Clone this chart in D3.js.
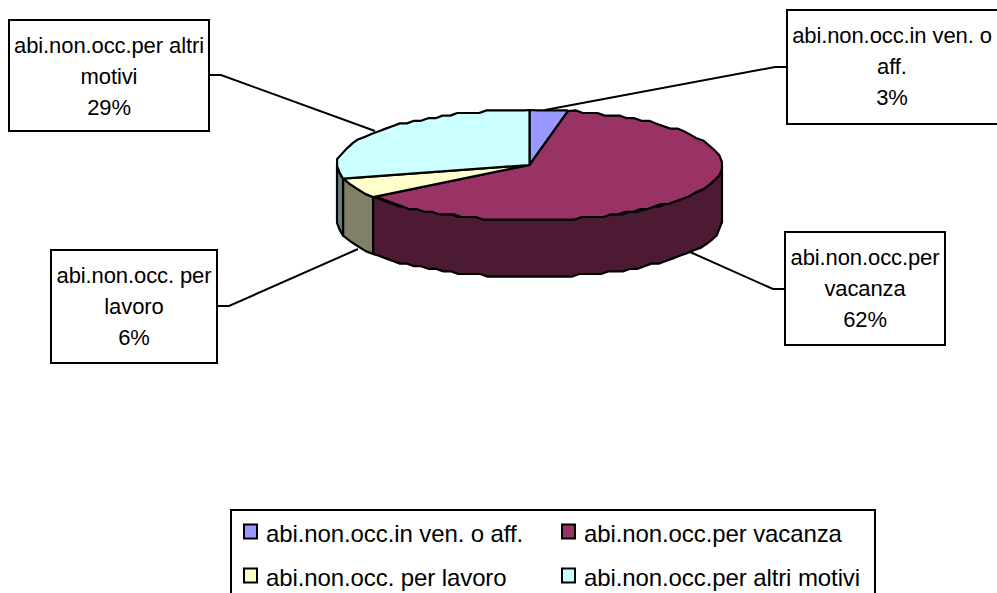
<!DOCTYPE html>
<html><head><meta charset="utf-8">
<script src="https://cdn.jsdelivr.net/npm/d3@7"></script>
<style>html,body{margin:0;background:#fff}svg{display:block}text{font-family:"Liberation Sans",Arial,sans-serif;fill:#000}</style>
</head><body><svg id="c" width="997" height="593"></svg>
<script>
const categories = ["abi.non.occ.in ven. o aff.","abi.non.occ.per vacanza","abi.non.occ. per lavoro","abi.non.occ.per altri motivi"];
const values = [3.2,61.9,5.9,29];
const percentLabels = ["3%","62%","6%","29%"];
const topColors = ["#9999ff","#993366","#ffffcc","#ccffff"];
const sideColors = ["#4d4d80","#4d1a33","#808066","#668080"];
const labelLines = [["abi.non.occ.in ven. o","aff."],["abi.non.occ.per","vacanza"],["abi.non.occ. per","lavoro"],["abi.non.occ.per altri","motivi"]];
const boxes = [[787,10,1000,124],[785,232,945,345],[51,250,217,363],[9,20,209,131]];
const leaders = [[[787,67],[775,67],[545,110]],[[785,289],[773,289],[690,252]],[[217,306],[229,306],[358,249]],[[209,75],[221,75],[375,131]]];
const legendRows = [[0,1],[2,3]];

const svg = d3.select("#c");
const cx=529.5, cy=165, rx=192.5, ry=55, depth=57;
const X=d3.scaleLinear().domain([-1,1]).range([cx-rx,cx+rx]);
const Y=d3.scaleLinear().domain([-1,1]).range([cy-ry,cy+ry]);
const pie=d3.pie().sort(null).value(d=>d)(values);
const line=d3.line();
const grid=2.6, stepPx=7;
const pts=(a0,a1,dy=0)=>{
  const n=Math.max(2,Math.ceil((a1-a0)/0.005));
  const raw=d3.range(n+1).map(i=>{const a=a0+(a1-a0)*i/n;return [X(Math.sin(a)),Y(-Math.cos(a)),a];});
  const out=[raw[0]];
  raw.slice(1,-1).forEach(p=>{
    const l=out[out.length-1];
    if(Math.hypot(p[0]-l[0],p[1]-l[1])<stepPx) return;
    const flat=Math.abs(Math.cos(p[2]))>0.55;
    out.push(flat?[p[0],Math.round((p[1]-cy)/grid)*grid+cy]:[Math.round((p[0]-cx)/grid)*grid+cx,p[1]]);
  });
  out.push(raw[n]);
  return out.map(p=>[p[0],p[1]+dy]);
};

const lg=svg.append("g").attr("fill","none").attr("stroke","#000").attr("stroke-width",2);
leaders.forEach(l=>lg.append("path").attr("d",line(l)));

pie.forEach((p,i)=>{
  const a0=Math.max(p.startAngle,Math.PI/2), a1=Math.min(p.endAngle,Math.PI*1.5);
  if(a1<=a0) return;
  const t=pts(a0,a1), b=pts(a0,a1,depth).reverse();
  svg.append("path").attr("d",line(t.concat(b))+"Z").attr("fill",sideColors[i]).attr("stroke","#000").attr("stroke-width",2.2).attr("stroke-linejoin","round");
});
pie.forEach((p,i)=>{
  svg.append("path").attr("d",line([[X(0),Y(0)],...pts(p.startAngle,p.endAngle)])+"Z").attr("fill",topColors[i]).attr("stroke","#000").attr("stroke-width",2.2).attr("stroke-linejoin","round");
});
boxes.forEach((b,i)=>{
  svg.append("rect").attr("x",b[0]).attr("y",b[1]).attr("width",b[2]-b[0]).attr("height",b[3]-b[1]).attr("fill","#fff").attr("stroke","#000").attr("stroke-width",2);
  const mid=i==0?892:(b[0]+b[2])/2;
  [...labelLines[i],percentLabels[i]].forEach((s,j)=>{
    svg.append("text").attr("x",mid).attr("y",b[1]+33+j*31).attr("text-anchor","middle").attr("font-size",22).attr("letter-spacing",-0.1).text(s);
  });
});
svg.append("rect").attr("x",231).attr("y",510).attr("width",644).attr("height",100).attr("fill","#fff").attr("stroke","#000").attr("stroke-width",2);
const colX=[244,562], rowY=[531.5,575.5];
legendRows.forEach((r,ri)=>r.forEach((k,ci)=>{
  svg.append("rect").attr("x",colX[ci]).attr("y",rowY[ri]-7).attr("width",13).attr("height",14).attr("fill",topColors[k]).attr("stroke","#000").attr("stroke-width",2);
  svg.append("text").attr("x",colX[ci]+22).attr("y",rowY[ri]+10).attr("font-size",24).attr("letter-spacing",-0.1).text(categories[k]);
}));
</script></body></html>
